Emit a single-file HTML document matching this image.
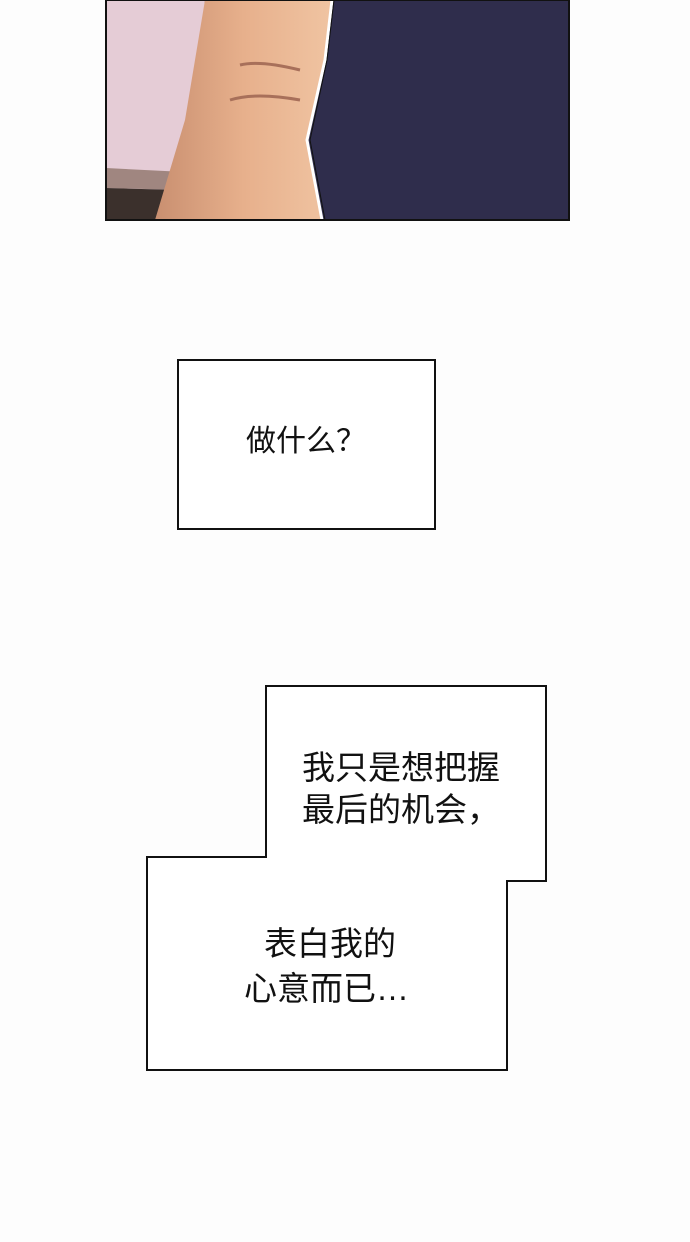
<!DOCTYPE html>
<html><head><meta charset="utf-8"><style>
html,body{margin:0;padding:0;background:#fdfdfd;}
body{width:690px;height:1242px;position:relative;overflow:hidden;font-family:"Liberation Sans","Noto Sans CJK SC",sans-serif;}
.t{position:absolute;font-size:33px;color:#111;white-space:nowrap;line-height:1;}
</style></head><body>
<svg width="690" height="1242" style="position:absolute;left:0;top:0">
<defs>
<linearGradient id="arm" x1="0" y1="0" x2="1" y2="0">
<stop offset="0" stop-color="#c98f70"/><stop offset="0.5" stop-color="#e7b08c"/><stop offset="1" stop-color="#f0c4a2"/>
</linearGradient>
</defs>
<rect x="106" y="0" width="463" height="220" fill="#2f2d4c"/>
<polygon points="106,0 205,0 185,220 106,220" fill="#e5ccd6"/>
<polygon points="106,168 185,172 182,190 106,188" fill="#a08680"/>
<polygon points="106,188 180,190 160,220 106,220" fill="#3b302c"/>
<polygon points="205,0 332,0 325,60 307,140 322,220 155,220 185,120" fill="url(#arm)"/>
<path d="M332,0 L325,60 L307,140 L322,220" stroke="#fff" stroke-width="3" fill="none"/>
<path d="M334,0 L327,60 L310,140 L325,220" stroke="#111" stroke-width="1" fill="none"/>
<path d="M240,65 Q260,60 300,70 M230,100 Q255,92 300,100" stroke="#a8705a" stroke-width="3" fill="none"/>
<rect x="106" y="0" width="463" height="220" fill="none" stroke="#111" stroke-width="2"/>
<rect x="178" y="360" width="257" height="169" fill="#fff" stroke="#111" stroke-width="2"/>
<polygon points="266,686 546,686 546,881 507,881 507,1070 147,1070 147,857 266,857" fill="#fff" stroke="#111" stroke-width="2"/>
</svg>
<div class="t" style="left:246px;top:427px;font-size:30px;">做什么？</div>
<div class="t" style="left:302px;top:751px;">我只是想把握</div>
<div class="t" style="left:302px;top:793px;">最后的机会，</div>
<div class="t" style="left:264px;top:927px;">表白我的</div>
<div class="t" style="left:244px;top:972px;">心意而已…</div>
</body></html>
